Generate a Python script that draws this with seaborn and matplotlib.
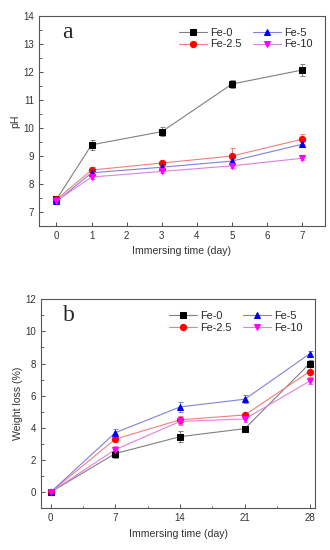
import numpy as np
import pandas as pd
import seaborn as sns
import matplotlib
matplotlib.use("Agg")
import matplotlib.pyplot as plt
from matplotlib.ticker import MultipleLocator

# panel a: pH vs immersing time
days_a = [0, 1, 3, 5, 7]
ph_fe0 = [7.45, 9.40, 9.87, 11.57, 12.07]
ph_fe25 = [7.45, 8.50, 8.75, 9.00, 9.60]
ph_fe5 = [7.38, 8.40, 8.60, 8.82, 9.42]
ph_fe10 = [7.40, 8.25, 8.45, 8.65, 8.92]
ph_err_fe0 = [0.12, 0.18, 0.15, 0.15, 0.20]
ph_err_fe25 = [0.10, 0.10, 0.08, 0.28, 0.18]
ph_err_fe5 = [0.08, 0.08, 0.06, 0.10, 0.10]
ph_err_fe10 = [0.06, 0.06, 0.06, 0.06, 0.08]

# panel b: weight loss vs immersing time
days_b = [0, 7, 14, 21, 28]
wl_fe0 = [0.0, 2.40, 3.45, 3.95, 8.00]
wl_fe25 = [0.0, 3.30, 4.50, 4.80, 7.50]
wl_fe5 = [0.0, 3.70, 5.30, 5.78, 8.60]
wl_fe10 = [0.0, 2.65, 4.40, 4.55, 6.90]
wl_err_fe0 = [0.10, 0.25, 0.35, 0.10, 0.20]
wl_err_fe25 = [0.10, 0.20, 0.25, 0.15, 0.35]
wl_err_fe5 = [0.10, 0.20, 0.30, 0.25, 0.15]
wl_err_fe10 = [0.10, 0.20, 0.25, 0.20, 0.20]

labels = ["Fe-0", "Fe-2.5", "Fe-5", "Fe-10"]
markers = ["s", "o", "^", "v"]
mark_colors = ["#000000", "#ff0000", "#0000ee", "#ff00ff"]
line_colors = ["#808080", "#f08080", "#8080e0", "#e080e0"]

sns.set_style("ticks")
plt.rcParams["font.family"] = ["Liberation Sans", "DejaVu Sans"]
plt.rcParams["xtick.direction"] = "in"
plt.rcParams["ytick.direction"] = "in"

fig = plt.figure(figsize=(3.3, 5.5), dpi=100)
ax_a = fig.add_axes([0.118, 0.589, 0.867, 0.382])
ax_b = fig.add_axes([0.124, 0.076, 0.831, 0.380])


def draw(ax, x, series, errs):
    for i, (y, e) in enumerate(zip(series, errs)):
        df = pd.DataFrame({"x": x, "y": y})
        ax.errorbar(x, y, yerr=e, fmt="none", ecolor=line_colors[i],
                    elinewidth=0.7, capsize=1.8, capthick=0.7, zorder=2)
        sns.lineplot(data=df, x="x", y="y", ax=ax, color=line_colors[i],
                     linewidth=0.8, marker=markers[i], markersize=4.5,
                     markerfacecolor=mark_colors[i], markeredgecolor=mark_colors[i],
                     label=labels[i], zorder=3)
    ax.legend(ncol=2, frameon=False, fontsize=7.8, handlelength=2.6,
              columnspacing=1.0, labelspacing=0.15, handletextpad=0.3,
              loc="upper right", bbox_to_anchor=(0.99, 0.99))
    for sp in ax.spines.values():
        sp.set_color("#555555")
        sp.set_linewidth(0.8)
    ax.tick_params(labelsize=7, colors="#333333", length=3, width=0.6)
    ax.tick_params(which="minor", length=1.8, width=0.5)


draw(ax_a, days_a, [ph_fe0, ph_fe25, ph_fe5, ph_fe10],
     [ph_err_fe0, ph_err_fe25, ph_err_fe5, ph_err_fe10])
ax_a.set_xlim(-0.5, 7.65)
ax_a.set_ylim(6.5, 14)
ax_a.xaxis.set_major_locator(MultipleLocator(1))
ax_a.yaxis.set_major_locator(MultipleLocator(1))
ax_a.yaxis.set_minor_locator(MultipleLocator(0.5))
ax_a.set_xlabel("Immersing time (day)", fontsize=7.6, color="#333333")
ax_a.set_ylabel("pH", fontsize=7.6, color="#333333", labelpad=2)
ax_a.text(0.08, 0.92, "a", transform=ax_a.transAxes, fontsize=17,
          family="Liberation Serif", va="center")

draw(ax_b, days_b, [wl_fe0, wl_fe25, wl_fe5, wl_fe10],
     [wl_err_fe0, wl_err_fe25, wl_err_fe5, wl_err_fe10])
ax_b.set_xlim(-1.05, 28.6)
ax_b.set_ylim(-1, 12)
ax_b.xaxis.set_major_locator(MultipleLocator(7))
ax_b.xaxis.set_minor_locator(MultipleLocator(3.5))
ax_b.yaxis.set_major_locator(MultipleLocator(2))
ax_b.yaxis.set_minor_locator(MultipleLocator(1))
ax_b.set_xlabel("Immersing time (day)", fontsize=7.6, color="#333333")
ax_b.set_ylabel("Weight loss (%)", fontsize=7.6, color="#333333", labelpad=2)
ax_b.text(0.08, 0.92, "b", transform=ax_b.transAxes, fontsize=17,
          family="Liberation Serif", va="center")

fig.savefig("out.png", dpi=100)
